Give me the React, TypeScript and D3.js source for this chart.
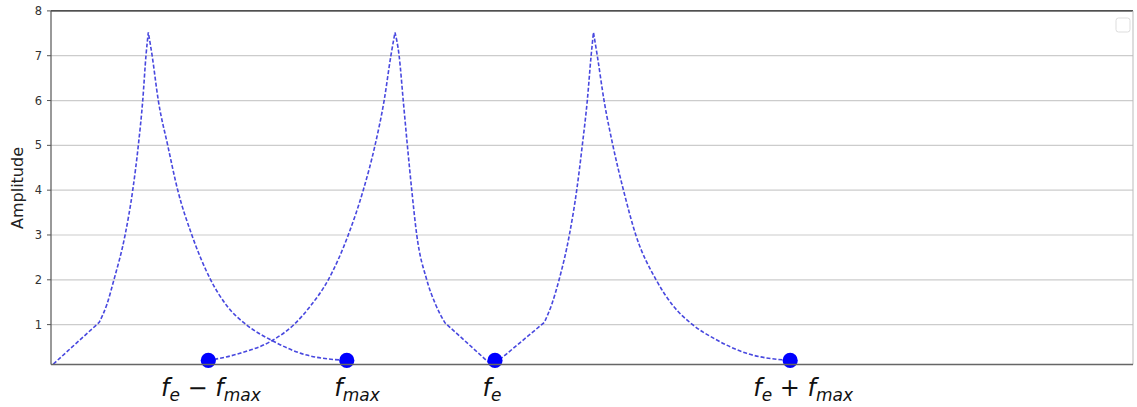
import React from "react";
import * as d3 from "d3";

// Baseband spectrum (0 .. f_max)
const curve1X = [0, 0.156, 0.182, 0.206, 0.244, 0.27, 0.289, 0.304, 0.315, 0.323, 0.336, 0.357, 0.389, 0.423, 0.471, 0.535, 0.59, 0.656, 0.745, 0.862, 0.998];
const curve1Y = [0.12, 1.05, 1.45, 2, 3, 4, 5, 6, 7, 7.52, 7, 6, 5, 4, 3, 2, 1.42, 1, 0.64, 0.32, 0.2];
// Lower sideband (f_e - f_max .. f_e)
const curve2X = [0.527, 0.635, 0.743, 0.818, 0.875, 0.935, 1.003, 1.054, 1.094, 1.125, 1.148, 1.162, 1.176, 1.19, 1.204, 1.219, 1.236, 1.27, 1.3, 1.332, 1.485];
const curve2Y = [0.2, 0.36, 0.64, 1, 1.42, 2, 3, 4, 5, 6, 7, 7.52, 7, 6, 5, 4, 3, 2, 1.45, 1.04, 0.13];
// Upper sideband (f_e .. f_e + f_max)
const curve3X = [1.502, 1.67, 1.695, 1.72, 1.755, 1.78, 1.799, 1.816, 1.829, 1.837, 1.85, 1.873, 1.903, 1.939, 1.981, 2.05, 2.108, 2.174, 2.25, 2.358, 2.506];
const curve3Y = [0.13, 1.05, 1.45, 2, 3, 4, 5, 6, 7, 7.52, 7, 6, 5, 4, 3, 2, 1.42, 1, 0.68, 0.36, 0.2];

const markerX = [0.527, 0.998, 1.502, 2.506];
const markerY = [0.2, 0.2, 0.2, 0.2];

const yTicks = [1, 2, 3, 4, 5, 6, 7, 8];
const xTickValues = [0.536, 1.033, 1.492, 2.55];
const xTickLabels: { t: string; sub?: string; op?: boolean }[][] = [
  [{ t: "f", sub: "e" }, { t: " − ", op: true }, { t: "f", sub: "max" }],
  [{ t: "f", sub: "max" }],
  [{ t: "f", sub: "e" }],
  [{ t: "f", sub: "e" }, { t: " + ", op: true }, { t: "f", sub: "max" }],
];

const W = 1137;
const H = 407;
const left = 51;
const right = 1133;
const top = 10.9;
const bottom = 364.5;

export default function App() {
  const x = d3.scaleLinear().domain([-0.008, 3.672]).range([left, right]);
  const y = d3.scaleLinear().domain([0.11, 8]).range([bottom, top]);
  const lin = d3.line<[number, number]>().x((d) => x(d[0])).y((d) => y(d[1])).curve(d3.curveLinear);
  const smooth = d3.line<[number, number]>().x((d) => x(d[0])).y((d) => y(d[1])).curve(d3.curveMonotoneX);

  const strip = (s: string) => s.replace(/^M[^A-Za-z]*/, "");

  const buildPath = (xs: number[], ys: number[]) => {
    const pts = xs.map((v, i) => [v, ys[i]] as [number, number]);
    const peak = ys.indexOf(d3.max(ys) as number);
    const kneeIdx = ys.findIndex((v) => v > 1.02 && v < 1.08);
    let d = "";
    if (kneeIdx < peak) {
      d += lin(pts.slice(0, kneeIdx + 1)) || "";
      d += strip(smooth(pts.slice(kneeIdx, peak + 1)) || "");
      d += strip(smooth(pts.slice(peak)) || "");
    } else {
      d += smooth(pts.slice(0, peak + 1)) || "";
      d += strip(smooth(pts.slice(peak, kneeIdx + 1)) || "");
      d += strip(lin(pts.slice(kneeIdx)) || "");
    }
    return d;
  };

  const paths = [buildPath(curve1X, curve1Y), buildPath(curve2X, curve2Y), buildPath(curve3X, curve3Y)];

  const font = "'DejaVu Sans', sans-serif";

  return (
    <svg width={W} height={H} style={{ position: "absolute", left: 0, top: 0, background: "#fff" }} fontFamily={font}>
      <rect x={0} y={0} width={W} height={H} fill="#fff" />
      {yTicks.map((t) => (
        <line key={"g" + t} x1={left} x2={right} y1={y(t)} y2={y(t)} stroke="#cccccc" strokeWidth={1.2} />
      ))}
      <defs>
        <clipPath id="plotclip">
          <rect x={left} y={top} width={right - left} height={bottom - top} />
        </clipPath>
      </defs>
      <g clipPath="url(#plotclip)">
        {paths.map((p, i) => (
          <path key={"c" + i} d={p} fill="none" stroke="#3434dc" strokeOpacity={0.9} strokeWidth={1.6} strokeDasharray="4,2" />
        ))}
      </g>
      {markerX.map((mx, i) => (
        <circle key={"m" + i} cx={x(mx)} cy={y(markerY[i])} r={7.6} fill="#0000ff" />
      ))}
      <line x1={left} x2={right} y1={top} y2={top} stroke="#222" strokeWidth={1.3} />
      <line x1={right} x2={right} y1={top} y2={bottom} stroke="#bbb" strokeWidth={1} />
      <line x1={left} x2={left} y1={top} y2={bottom} stroke="#555" strokeWidth={1.2} />
      <line x1={left} x2={right} y1={bottom} y2={bottom} stroke="#666" strokeWidth={1.3} />
      {yTicks.map((t) => (
        <g key={"yt" + t}>
          <line x1={left - 4} x2={left} y1={y(t)} y2={y(t)} stroke="#555" strokeWidth={1} />
          <text x={left - 9} y={y(t)} dy="0.35em" textAnchor="end" fontSize={11.5} fill="#333">
            {t}
          </text>
        </g>
      ))}
      <text transform={`translate(17, 188) rotate(-90)`} textAnchor="middle" dy="0.35em" fontSize={16} fill="#222">
        Amplitude
      </text>
      {xTickValues.map((v, i) => {
        const parts = xTickLabels[i];
        const nodes: React.ReactNode[] = [];
        let down = false;
        parts.forEach((p, j) => {
          nodes.push(
            <tspan key={j + "m"} fontStyle={p.op ? "normal" : "italic"} fontSize={24} dy={down ? -5 : 0}>
              {p.t}
            </tspan>
          );
          down = false;
          if (p.sub) {
            nodes.push(
              <tspan key={j + "s"} fontStyle="italic" fontSize={17} dy={5}>
                {p.sub}
              </tspan>
            );
            down = true;
          }
        });
        return (
          <text key={"xl" + i} x={x(v)} y={396} textAnchor="middle" fill="#111">
            {nodes}
          </text>
        );
      })}
      <rect x={1116} y={18} width={14} height={14} rx={2.5} fill="#fff" stroke="#ddd" strokeWidth={1} />
    </svg>
  );
}
